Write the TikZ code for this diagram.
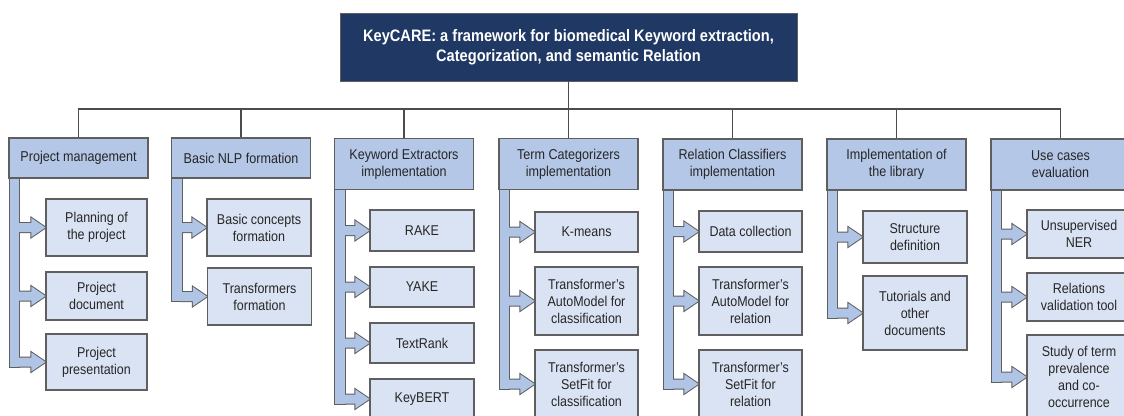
\documentclass[tikz,border=0pt]{standalone}
\usepackage{fontspec}
\setmainfont{Liberation Sans}[FakeStretch=0.88]
\usetikzlibrary{calc,backgrounds}
\definecolor{navy}{HTML}{1F3864}
\definecolor{hdrfill}{HTML}{B4C7E7}
\definecolor{itemfill}{HTML}{DAE3F3}
\definecolor{edge}{HTML}{5F5F5F}
\definecolor{ink}{HTML}{262626}
\definecolor{stemfill}{HTML}{B0C4E6}

% block-arrow stem of one column: vertical bar under the header and one arrow per child
\newcommand\stemshape[4]{% #1 path style, #2 header, #3 last child, #4 all children
  \path[#1] ($(#2.south west)+(1.5,0)$) rectangle ($(#2.south west |- #3.west)+(11,4.5)$);
  \foreach \k in {#4} {
    \path[#1] ($(#2.south west |- \k.west)+(10,-4.5)$) -- ($(\k.west)+(-14,-4.5)$)
      -- ($(\k.west)+(-14,-9.5)$) -- (\k.west) -- ($(\k.west)+(-14,9.5)$)
      -- ($(\k.west)+(-14,4.5)$) -- ($(#2.south west |- \k.west)+(10,4.5)$) -- cycle;
  }
}
\newcommand\allstems[1]{%
  \stemshape{#1}{h1}{c13}{c11,c12,c13}
  \stemshape{#1}{h2}{c22}{c21,c22}
  \stemshape{#1}{h3}{c34}{c31,c32,c33,c34}
  \stemshape{#1}{h4}{c43}{c41,c42,c43}
  \stemshape{#1}{h5}{c53}{c51,c52,c53}
  \stemshape{#1}{h6}{c62}{c61,c62}
  \stemshape{#1}{h7}{c73}{c71,c72,c73}
}

\begin{document}
\begin{tikzpicture}[x=1pt,y=-1pt,
  titlebox/.style={draw=edge, fill=navy, text=white, line width=0.8,
    font=\fontsize{16.6}{20}\selectfont\bfseries, align=center, inner sep=0pt},
  hdr/.style={draw=edge, fill=hdrfill, text=ink, line width=1.1,
    font=\fontsize{14.3}{17}\selectfont, align=center, inner sep=0pt, minimum width=139},
  item/.style={draw=edge, fill=itemfill, text=ink, line width=1.1,
    font=\fontsize{14.2}{17}\selectfont, align=center, inner sep=0pt, minimum width=104},
  bus/.style={draw=black!70, line width=1.1},
  ]
\path[use as bounding box] (0,0) rectangle (1124,415);
\clip (0,0) rectangle (1124,415);

% root
\node[titlebox, minimum width=457, minimum height=68] (top) at (568.5,47)
  {KeyCARE: a framework for biomedical Keyword extraction,\\Categorization, and semantic Relation};

% work packages
\node[hdr, minimum height=40] (h1) at (78.5,158) {Project management};
\node[hdr, minimum height=40] (h2) at (241,158) {Basic NLP formation};
\node[hdr, minimum height=51] (h3) at (404,164) {Keyword Extractors\\implementation};
\node[hdr, minimum height=51] (h4) at (568.5,164) {Term Categorizers\\implementation};
\node[hdr, minimum height=51] (h5) at (732.5,164.5) {Relation Classifiers\\implementation};
\node[hdr, minimum height=51] (h6) at (896.5,164.5) {Implementation of\\the library};
\node[hdr, minimum height=51] (h7) at (1060.5,164.5) {Use cases\\evaluation};

% tasks
\node[item, minimum width=101, minimum height=57] (c11) at (96.5,227.5) {Planning of\\the project};
\node[item, minimum width=101, minimum height=48] (c12) at (96.5,296) {Project\\document};
\node[item, minimum width=101, minimum height=56] (c13) at (96.5,362) {Project\\presentation};

\node[item, minimum height=57] (c21) at (259,227.5) {Basic concepts\\formation};
\node[item, minimum height=57] (c22) at (259.5,296.5) {Transformers\\formation};

\node[item, minimum height=41] (c31) at (422,230.5) {RAKE};
\node[item, minimum height=40] (c32) at (422,287) {YAKE};
\node[item, minimum height=40] (c33) at (422,343) {TextRank};
\node[item, minimum height=40] (c34) at (422,399) {KeyBERT};

\node[item, minimum width=103, minimum height=40] (c41) at (586.5,232) {K-means};
\node[item, minimum width=103, minimum height=68] (c42) at (586.5,301) {Transformer's\\AutoModel for\\classification};
\node[item, minimum width=103, minimum height=68] (c43) at (586.5,384) {Transformer's\\SetFit for\\classification};

\node[item, minimum width=103, minimum height=41] (c51) at (750.5,231.5) {Data collection};
\node[item, minimum width=103, minimum height=68] (c52) at (750.5,301) {Transformer's\\AutoModel for\\relation};
\node[item, minimum width=103, minimum height=68] (c53) at (750.5,384) {Transformer's\\SetFit for\\relation};

\node[item, minimum height=52] (c61) at (915,237) {Structure\\definition};
\node[item, minimum height=74] (c62) at (915,313) {Tutorials and\\other\\documents};

\node[item, minimum height=48] (c71) at (1079,234) {Unsupervised\\NER};
\node[item, minimum height=48] (c72) at (1079,297) {Relations\\validation tool};
\node[item, minimum height=84] (c73) at (1079,377) {Study of term\\prevalence\\and co-\\occurrence};

% tree lines from the root to the work packages
\coordinate (bus) at (568.5,109);
\draw[bus] (top.south) -- (bus);
\foreach \h in {h1,h2,h3,h4,h5,h6,h7} \draw[bus] (bus) -| (\h.north);

% block-arrow stems: wide outline first, then the fill hides the inner half
\begin{scope}[on background layer]
  \fill[white] (0,0) rectangle (1124,415);
  \allstems{draw=edge, line width=2}
  \allstems{fill=stemfill}
\end{scope}
\end{tikzpicture}
\end{document}
